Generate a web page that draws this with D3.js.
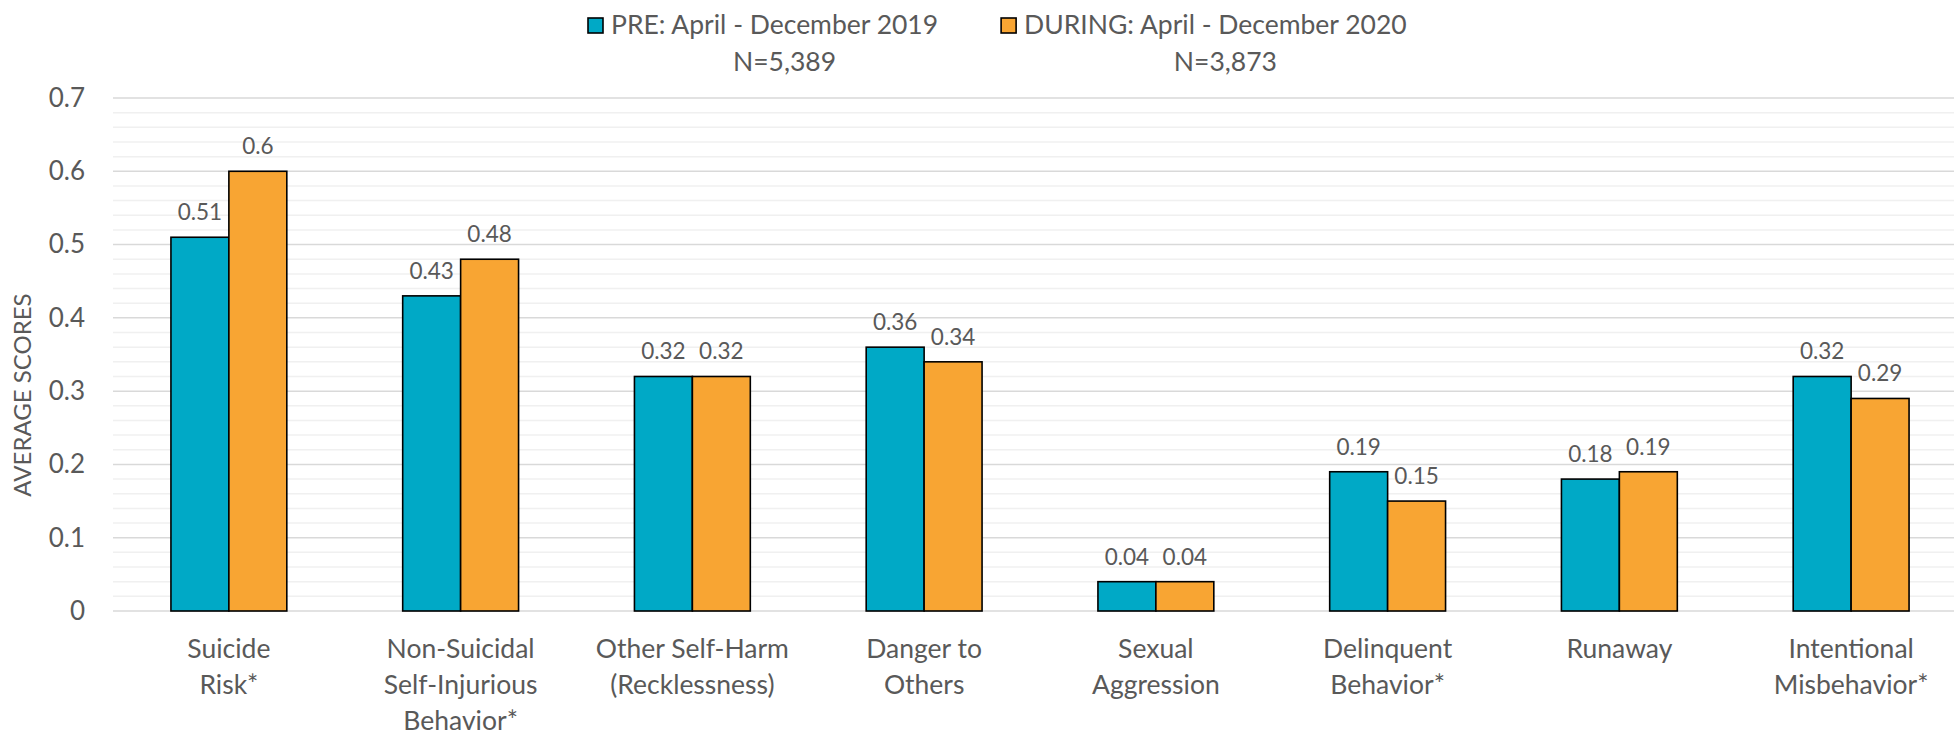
<!DOCTYPE html>
<html>
<head>
<meta charset="utf-8">
<script src="https://cdn.jsdelivr.net/npm/d3@7"></script>
<style>
    body { margin: 0; background: #fff; }
    svg { display: block; font-family: Lato, "Open Sans", sans-serif; }
</style>
</head>
<body>
<div id="chart"></div>
<script>
// chart data
const categories = [
    "Suicide Risk*", "Non-Suicidal Self-Injurious Behavior*", "Other Self-Harm (Recklessness)",
    "Danger to Others", "Sexual Aggression", "Delinquent Behavior*", "Runaway", "Intentional Misbehavior*"
];
// how the category names wrap under the axis
const categoryLines = [
    ["Suicide", "Risk*"],
    ["Non-Suicidal", "Self-Injurious", "Behavior*"],
    ["Other Self-Harm", "(Recklessness)"],
    ["Danger to", "Others"],
    ["Sexual", "Aggression"],
    ["Delinquent", "Behavior*"],
    ["Runaway"],
    ["Intentional", "Misbehavior*"]
];
const seriesNames = ["PRE: April - December 2019", "DURING: April - December 2020"];
const seriesN = ["N=5,389", "N=3,873"];
const preValues = [0.51, 0.43, 0.32, 0.36, 0.04, 0.19, 0.18, 0.32];
const duringValues = [0.60, 0.48, 0.32, 0.34, 0.04, 0.15, 0.19, 0.29];
const yTicks = [0, 0.1, 0.2, 0.3, 0.4, 0.5, 0.6, 0.7];
const yTitle = "AVERAGE SCORES";

const width = 1954, height = 731;
const margin = {left: 113, right: -13, top: 98, bottom: 120};
const colors = ["#00a9c6", "#f8a533"];
const textColor = "#595959";

const svg = d3.select("#chart").append("svg")
    .attr("width", width).attr("height", height);

const x = d3.scaleBand()
    .domain(categories)
    .range([margin.left, width - margin.right])
    .paddingInner(0.5)
    .paddingOuter(0.25);
const xSub = d3.scaleBand()
    .domain(seriesNames)
    .range([0, x.bandwidth()]);
const y = d3.scaleLinear()
    .domain([0, 0.7])
    .range([height - margin.bottom, margin.top]);

// gridlines, minor every 0.02 then major every 0.1
const minorTicks = d3.range(0, 71, 2).map(v => v / 100).filter(v => !yTicks.some(t => Math.abs(t - v) < 1e-9));
svg.append("g").attr("class", "minor-grid")
    .selectAll("line").data(minorTicks)
    .join("line")
    .attr("x1", margin.left).attr("x2", width)
    .attr("y1", d => y(d)).attr("y2", d => y(d))
    .attr("stroke", "#f0f0f0").attr("stroke-width", 1.5);
svg.append("g").attr("class", "major-grid")
    .selectAll("line").data(yTicks)
    .join("line")
    .attr("x1", margin.left).attr("x2", width)
    .attr("y1", d => y(d)).attr("y2", d => y(d))
    .attr("stroke", "#d9d9d9").attr("stroke-width", 1.5);

// y axis labels (no axis line in the original)
const yAxis = svg.append("g")
    .attr("transform", `translate(${margin.left - 28},0)`)
    .call(d3.axisLeft(y).tickValues(yTicks).tickSize(0).tickPadding(0).tickFormat(d3.format("")));
yAxis.select(".domain").remove();
yAxis.selectAll("text")
    .attr("font-family", "Lato, sans-serif")
    .attr("font-size", 26)
    .attr("fill", textColor);

svg.append("text")
    .attr("transform", "rotate(-90)")
    .attr("x", -395).attr("y", 31)
    .attr("text-anchor", "middle")
    .attr("font-size", 24)
    .attr("fill", textColor)
    .text(yTitle);

// bars
const rows = categories.map((c, i) => ({
    category: c,
    values: [preValues[i], duringValues[i]]
}));
const groups = svg.append("g").attr("class", "bars")
    .selectAll("g").data(rows)
    .join("g")
    .attr("transform", d => `translate(${x(d.category)},0)`);
groups.selectAll("rect")
    .data(d => d.values.map((v, k) => ({series: seriesNames[k], k, v})))
    .join("rect")
    .attr("x", d => xSub(d.series))
    .attr("y", d => y(d.v))
    .attr("width", xSub.bandwidth())
    .attr("height", d => y(0) - y(d.v))
    .attr("fill", d => colors[d.k])
    .attr("stroke", "#000")
    .attr("stroke-width", 1.6);
groups.selectAll("text.value")
    .data(d => d.values.map((v, k) => ({series: seriesNames[k], k, v})))
    .join("text").attr("class", "value")
    .attr("x", d => xSub(d.series) + xSub.bandwidth() / 2)
    .attr("y", d => y(d.v) - 17)
    .attr("text-anchor", "middle")
    .attr("font-size", 22.5)
    .attr("fill", textColor)
    .text(d => d3.format("")(d.v));

// category labels, wrapped by hand
svg.append("g").attr("class", "xlabels")
    .selectAll("text").data(categories)
    .join("text")
    .attr("text-anchor", "middle")
    .attr("font-size", 26.5)
    .attr("fill", textColor)
    .each(function (d, i) {
        d3.select(this).selectAll("tspan")
            .data(categoryLines[i])
            .join("tspan")
            .attr("x", x(d) + x.bandwidth() / 2)
            .attr("y", (l, j) => y(0) + 47 + j * 36)
            .text(l => l);
    });

// legend
const legend = svg.append("g").attr("class", "legend")
    .attr("transform", "translate(587,0)");
let offset = 0;
seriesNames.forEach((name, k) => {
    const item = legend.append("g").attr("transform", `translate(${offset},0)`);
    item.append("rect")
        .attr("x", 1).attr("y", 18)
        .attr("width", 15).attr("height", 15)
        .attr("fill", colors[k])
        .attr("stroke", "#000").attr("stroke-width", 1.6);
    const label = item.append("text")
        .attr("x", 24).attr("y", 34)
        .attr("font-size", 26.5)
        .attr("fill", textColor)
        .text(name);
    const w = label.node().getComputedTextLength();
    item.append("text")
        .attr("x", 24 + w / 2 + 10).attr("y", 71)
        .attr("text-anchor", "middle")
        .attr("font-size", 26.5)
        .attr("fill", textColor)
        .text(seriesN[k]);
    offset += 24 + w + 62;
});
</script>
</body>
</html>
